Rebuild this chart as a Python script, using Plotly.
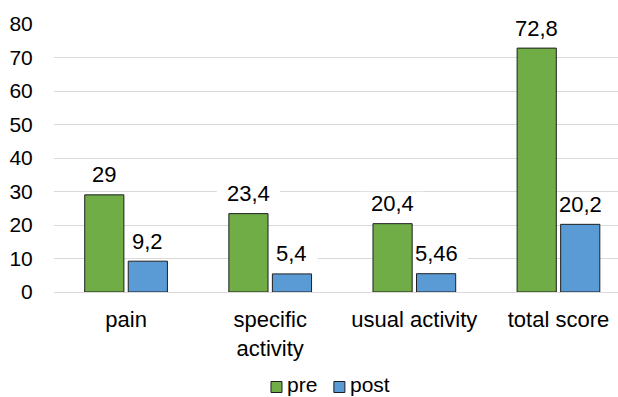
import plotly.graph_objects as go

categories = ["pain", "specific<br>activity", "usual activity", "total score"]
pre_values = [29, 23.4, 20.4, 72.8]
post_values = [9.2, 5.4, 5.46, 20.2]
y_ticks = [0, 10, 20, 30, 40, 50, 60, 70, 80]
series_names = ["pre", "post"]

GREEN = "#70AD47"
BLUE = "#5B9BD5"
OUTLINE = "#1e1e1e"
GRID = "#d9d9d9"
FONT = "Liberation Sans, Arial, Helvetica, sans-serif"
TEXT = "#000000"
LABEL_SIZE = 22
LABEL_LIFT = 20        # px between bar top and label centre
BAR_SHIFT = 21.75      # px from category centre to each bar centre


def fmt(v):
    # decimal comma, as in the labels
    return ("%g" % v).replace(".", ",")


fig = go.Figure()
for name, values, color in zip(series_names, (pre_values, post_values), (GREEN, BLUE)):
    fig.add_trace(go.Bar(name=name, x=categories, y=values, showlegend=False,
                         marker=dict(color=color, line=dict(color=OUTLINE, width=1))))

# value labels above each bar; a white patch behind each label (drawn between
# gridlines and bars) breaks the gridline around the text
annotations, shapes = [], []
for series, shift in ((pre_values, -BAR_SHIFT), (post_values, BAR_SHIFT)):
    for cat, v in zip(categories, series):
        label = fmt(v)
        annotations.append(dict(x=cat, y=v, xshift=shift, yshift=LABEL_LIFT, text=label,
                                xref="x", yref="y", showarrow=False, yanchor="middle",
                                font=dict(family=FONT, size=LABEL_SIZE, color=TEXT)))
        half = len(label) * 0.28 * LABEL_SIZE + 7
        shapes.append(dict(type="rect", xref="x", yref="y", layer="between",
                           xsizemode="pixel", ysizemode="pixel", xanchor=cat, yanchor=v,
                           x0=shift - half, x1=shift + half,
                           y0=LABEL_LIFT - 12, y1=LABEL_LIFT + 12,
                           fillcolor="white", line=dict(width=0)))

# compact legend under the axis: small outlined swatch followed by the series name
legend_y = -0.3545
for name, color, lx in zip(series_names, (GREEN, BLUE), (0.3945, 0.506)):
    shapes.append(dict(type="rect", xref="paper", yref="paper",
                       xsizemode="pixel", ysizemode="pixel", xanchor=lx, yanchor=legend_y,
                       x0=-5.5, x1=5.5, y0=-5.5, y1=5.5,
                       fillcolor=color, line=dict(color=OUTLINE, width=1)))
    annotations.append(dict(x=lx, y=legend_y, xref="paper", yref="paper", xshift=9, yshift=3,
                            xanchor="left", yanchor="middle", showarrow=False, text=name,
                            font=dict(family=FONT, size=21, color=TEXT)))

fig.update_layout(
    width=618, height=397,
    margin=dict(l=54, r=0, t=24, b=105, autoexpand=False),
    paper_bgcolor="white", plot_bgcolor="white",
    barmode="group", bargap=0.396, bargroupgap=0.1,
    font=dict(family=FONT, size=LABEL_SIZE, color=TEXT),
    annotations=annotations,
    shapes=shapes,
    showlegend=False,
    xaxis=dict(type="category", range=[-0.5, 3.413], showgrid=False, showline=False,
               automargin=False,
               ticks="outside", ticklen=8, tickcolor="rgba(0,0,0,0)",
               tickfont=dict(family=FONT, size=LABEL_SIZE, color=TEXT)),
    yaxis=dict(range=[0, 80], tickvals=y_ticks, showgrid=True, gridcolor=GRID, gridwidth=1,
               zeroline=True, zerolinecolor=GRID, zerolinewidth=1, showline=False,
               automargin=False,
               ticks="outside", ticklen=16, tickcolor="rgba(0,0,0,0)",
               tickfont=dict(family=FONT, size=21, color=TEXT)),
)

fig.write_html("out.html")
